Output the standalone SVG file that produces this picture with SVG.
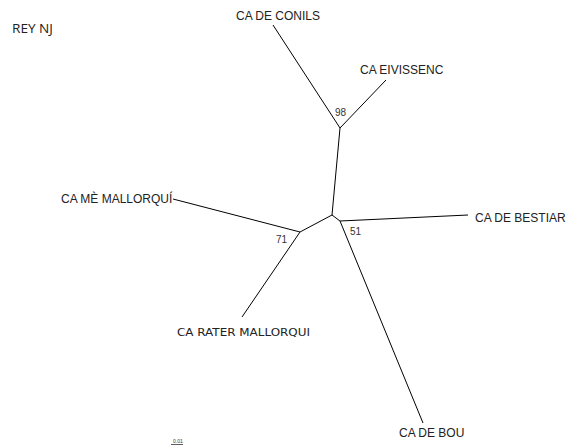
<svg xmlns="http://www.w3.org/2000/svg" width="566" height="448" viewBox="0 0 566 448">
<style>
.e{stroke:#000;stroke-width:1;fill:none}
.t{font-family:"Liberation Sans",Arial,sans-serif;font-size:12px;fill:#222}
.b{font-family:"Liberation Sans",Arial,sans-serif;font-size:10px;fill:#333}
</style>
<rect width="566" height="448" fill="#fff"/>
<text x="12" y="33" textLength="41" lengthAdjust="spacingAndGlyphs" style="font-family:'Open Sans','Liberation Sans',sans-serif;font-size:12.5px;fill:#222">REY NJ</text>
<g id="connectors">
<line class="e" x1="273" y1="25" x2="340" y2="128"/>
<line class="e" x1="386" y1="80" x2="340" y2="128"/>
<line class="e" x1="340" y1="128" x2="332" y2="215"/>
<line class="e" x1="332" y1="215" x2="340" y2="221"/>
<line class="e" x1="340" y1="221" x2="468" y2="215"/>
<line class="e" x1="340" y1="221" x2="423" y2="423"/>
<line class="e" x1="332" y1="215" x2="300" y2="232"/>
<line class="e" x1="300" y1="232" x2="173" y2="199"/>
<line class="e" x1="300" y1="232" x2="242" y2="317"/>
</g>
<g id="n-conils"><text class="t" x="320" y="20" text-anchor="end">CA DE CONILS</text></g>
<g id="n-eivissenc"><text class="t" x="360" y="74">CA EIVISSENC</text></g>
<g id="n-me"><text class="t" x="61" y="203">CA MÈ MALLORQUÍ</text></g>
<g id="n-bestiar"><text class="t" x="475" y="222">CA DE BESTIAR</text></g>
<g id="n-rater"><text class="t" x="177" y="336" textLength="133" lengthAdjust="spacingAndGlyphs" style="font-family:'DejaVu Sans',sans-serif;font-size:11px">CA RATER MALLORQUI</text></g>
<g id="n-bou"><text class="t" x="399" y="437">CA DE BOU</text></g>
<g id="boot">
<text class="b" x="335" y="116">98</text>
<text class="b" x="350" y="235">51</text>
<text class="b" x="276" y="243">71</text>
</g>
<g id="scale">
<text x="173" y="443" style="font-family:'Liberation Sans',sans-serif;font-size:5px;fill:#333">0.01</text>
<line x1="171" y1="444.5" x2="183" y2="444.5" stroke="#333" stroke-width="0.8"/>
</g>
</svg>
